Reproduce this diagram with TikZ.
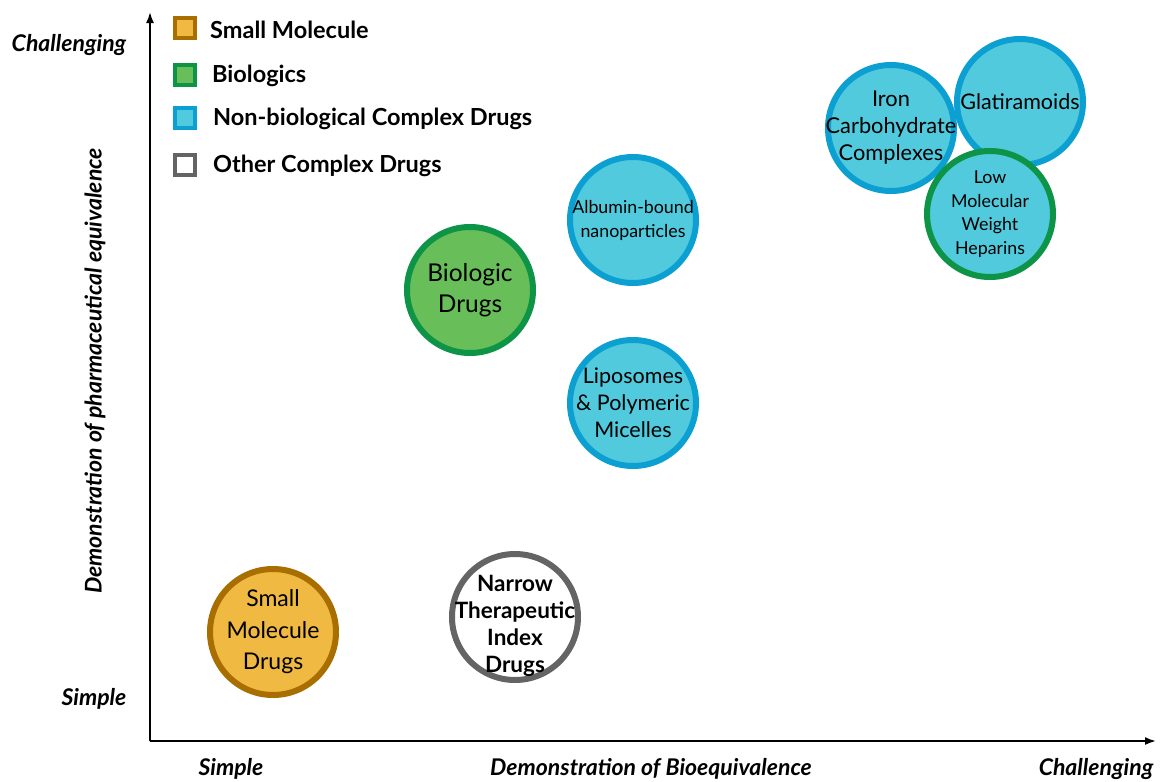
\documentclass[tikz,border=0pt]{standalone}
\usepackage{fontspec}
\setmainfont{Lato}
\usetikzlibrary{arrows.meta}

\definecolor{smfill}{RGB}{240,185,65}
\definecolor{smline}{RGB}{168,110,0}
\definecolor{biofill}{RGB}{104,190,88}
\definecolor{bioline}{RGB}{14,148,71}
\definecolor{nbfill}{RGB}{80,202,220}
\definecolor{nbline}{RGB}{12,160,210}
\definecolor{otline}{RGB}{100,100,100}

\newcommand{\fs}[1]{\fontsize{#1}{#1}\selectfont}

\tikzset{
  bubble/.style={circle, line width=6pt, minimum size=126pt, inner sep=0pt},
  smallmol/.style={bubble, draw=smline, fill=smfill},
  biologic/.style={bubble, draw=bioline, fill=biofill},
  nonbio/.style={bubble, draw=nbline, fill=nbfill},
  otherdrug/.style={bubble, draw=otline, fill=white},
  lmwh/.style={bubble, draw=bioline, fill=nbfill},
  bubbletext/.style={align=center, inner sep=0pt, text=black},
  keybox/.style={rectangle, line width=4pt, minimum size=20pt, inner sep=0pt},
  keytext/.style={anchor=west, inner sep=0pt, font=\fs{23.5}\bfseries},
  axislabel/.style={inner sep=0pt, font=\fs{23}\bfseries\itshape},
  axis/.style={line width=1.8pt, -{Latex[length=11pt,width=8pt]}},
}

\begin{document}
\begin{tikzpicture}[x=1pt, y=-1pt]
\useasboundingbox (0,0) rectangle (1163,782);

% axes
\coordinate (origin) at (150,741);
\coordinate (ytop) at (150,12);
\coordinate (xend) at (1156,741);
\draw[axis] (origin) -- (ytop);
\draw[axis] (origin) -- (xend);

% axis labels
\node[axislabel] (ych) at (69,45) {Challenging};
\node[axislabel] (ysi) at (94,699) {Simple};
\node[axislabel, rotate=90] (ytitle) at (95,371)
  {Demonstration of \textit{pharmaceutical} equivalence};
\node[axislabel] (xsi) at (231,769) {Simple};
\node[axislabel] (xtitle) at (651,769) {Demonstration of Bioequivalence};
\node[axislabel] (xch) at (1096,769) {Challenging};

% key
\node[keybox, draw=smline, fill=smfill] (k1) at (185,28) {};
\node[keybox, draw=bioline, fill=biofill] (k2) at (185,75) {};
\node[keybox, draw=nbline, fill=nbfill] (k3) at (185,118) {};
\node[keybox, draw=otline, fill=white] (k4) at (185,165) {};
\node[keytext] (t1) at (210,30) {Small Molecule};
\node[keytext] (t2) at (212,76) {Biologics};
\node[keytext] (t3) at (213,119) {Non-biological Complex Drugs};
\node[keytext] (t4) at (213,166) {Other Complex Drugs};

% bubbles
\node[smallmol] (sm) at (273,632) {};
\node[otherdrug] (nti) at (515,617) {};
\node[biologic] (bio) at (470,290) {};
\node[nonbio] (alb) at (633,220) {};
\node[nonbio] (lip) at (633,403) {};
\node[nonbio] (iron) at (891,128) {};
\node[nonbio] (glat) at (1020,102) {};
\node[lmwh] (lmw) at (990,214) {};

% bubble texts
\node[bubbletext, font=\fontsize{23}{31.5}\selectfont] at (sm) {Small\\Molecule\\Drugs};
\node[bubbletext, font=\fontsize{22.5}{27}\selectfont\bfseries] at ([yshift=-9pt]nti.center) {Narrow\\Therapeutic\\Index\\Drugs};
\node[bubbletext, font=\fontsize{24.5}{31}\selectfont] at (bio) {Biologic\\Drugs};
\node[bubbletext, font=\fontsize{17.8}{24}\selectfont] at (alb) {Albumin-bound\\nanoparticles};
\node[bubbletext, font=\fontsize{21.5}{27}\selectfont] at (lip) {Liposomes\\\& Polymeric\\Micelles};
\node[bubbletext, font=\fontsize{21.8}{27}\selectfont] at (iron) {Iron\\Carbohydrate\\Complexes};
\node[bubbletext, font=\fontsize{21.5}{27}\selectfont] at (glat) {Glatiramoids};
\node[bubbletext, font=\fontsize{17.8}{23.5}\selectfont] at (lmw) {Low\\Molecular\\Weight\\Heparins};
\end{tikzpicture}
\end{document}
